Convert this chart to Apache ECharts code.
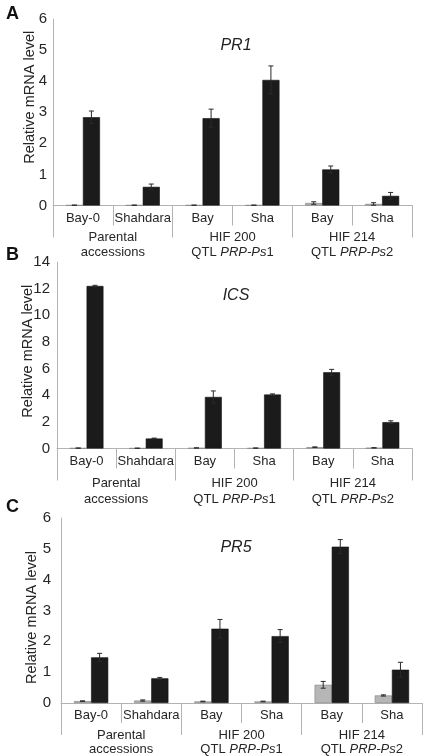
<!DOCTYPE html>
<html>
<head>
<meta charset="utf-8">
<script src="https://cdn.jsdelivr.net/npm/echarts@6/dist/echarts.min.js"></script>
<style>
html,body{margin:0;padding:0;background:#fff;}
#chart{width:423px;height:756px;}
</style>
</head>
<body>
<div id="chart"></div>
<script>
// ---- data ----
const categories = ['Bay-0', 'Shahdara', 'Bay', 'Sha', 'Bay', 'Sha'];
const groupLine1 = ['Parental', 'HIF 200', 'HIF 214'];
const groupLine2 = ['accessions', 'QTL {i|PRP-Ps}1', 'QTL {i|PRP-Ps}2'];
const panelLetters = ['A', 'B', 'C'];
const geneNames = ['PR1', 'ICS', 'PR5'];
const yAxisName = 'Relative mRNA level';
const yMax = [6, 14, 6];
const yInterval = [1, 2, 1];

// PR1
const pr1Gray = [0.01, 0.01, 0.01, 0.01, 0.08, 0.05];
const pr1GraySd = [0, 0, 0, 0, 0.04, 0.04];
const pr1Black = [2.84, 0.60, 2.81, 4.04, 1.16, 0.31];
const pr1BlackSd = [0.20, 0.09, 0.29, 0.45, 0.11, 0.11];
// ICS
const icsGray = [0.03, 0.02, 0.04, 0.03, 0.10, 0.05];
const icsGraySd = [0, 0, 0, 0, 0.02, 0.01];
const icsBlack = [12.2, 0.75, 3.87, 4.05, 5.72, 1.98];
const icsBlackSd = [0.05, 0.03, 0.45, 0.05, 0.22, 0.10];
// PR5
const pr5Gray = [0.06, 0.08, 0.05, 0.05, 0.59, 0.245];
const pr5GraySd = [0.01, 0.02, 0.01, 0.01, 0.11, 0.02];
const pr5Black = [1.48, 0.80, 2.41, 2.17, 5.07, 1.08];
const pr5BlackSd = [0.13, 0.03, 0.30, 0.21, 0.23, 0.24];

const grayVals = [pr1Gray, icsGray, pr5Gray];
const graySds = [pr1GraySd, icsGraySd, pr5GraySd];
const blackVals = [pr1Black, icsBlack, pr5Black];
const blackSds = [pr1BlackSd, icsBlackSd, pr5BlackSd];

// ---- layout (styles / positions) ----
const FONT = '"Liberation Sans", Arial, sans-serif';
const AXIS_COLOR = '#b3b3b3';
const TEXT_COLOR = '#262626';
const grids = [
  {left: 53, top: 19, width: 359, height: 186.5},
  {left: 57, top: 262, width: 355, height: 186.5},
  {left: 61, top: 518, width: 361, height: 186.5}
];
const nameGaps = [16, 22, 22];
const namePads = [[0, 0, 0, 30], [0, 0, 0, 8], [0, 14, 0, 0]];
const yLabelMargins = [6, 7, 10];
const groupMargins = [24, 27, 25];
const groupLineHeights = [15, 16, 14];
const letterTops = [0, 241, 493];
const geneTops = [33, 283, 535];
const geneLeft = 231;

function errRenderer(side) {
  return function (params, api) {
    const x = api.value(0);
    const lo = api.coord([x, api.value(1)]);
    const hi = api.coord([x, api.value(2)]);
    const cw = api.size([1, 0])[0];
    const cx = lo[0] + side * cw * 0.142;
    const cap = 2.5;
    const st = {stroke: '#2a2a2a', lineWidth: 1};
    return {
      type: 'group',
      children: [
        {type: 'line', shape: {x1: cx, y1: lo[1], x2: cx, y2: hi[1]}, style: st},
        {type: 'line', shape: {x1: cx - cap, y1: hi[1], x2: cx + cap, y2: hi[1]}, style: st},
        {type: 'line', shape: {x1: cx - cap, y1: lo[1], x2: cx + cap, y2: lo[1]}, style: st}
      ]
    };
  };
}

const option = {
  animation: false,
  backgroundColor: '#fff',
  title: [],
  grid: [],
  xAxis: [],
  yAxis: [],
  series: []
};

for (let p = 0; p < 3; p++) {
  option.grid.push(Object.assign({containLabel: false}, grids[p]));
  option.title.push({
    text: panelLetters[p], left: 1, top: letterTops[p],
    textStyle: {fontFamily: FONT, fontWeight: 'bold', fontSize: 18, color: '#111'}
  });
  option.title.push({
    text: geneNames[p], left: geneLeft, top: geneTops[p], textAlign: 'center',
    textStyle: {fontFamily: FONT, fontStyle: 'italic', fontWeight: 'normal', fontSize: 16, color: '#222'}
  });
  // category axis
  option.xAxis.push({
    type: 'category', gridIndex: p, data: categories, position: 'bottom',
    axisLine: {show: true, lineStyle: {color: AXIS_COLOR, width: 1}},
    axisTick: {show: true, length: 20, interval: 0, lineStyle: {color: AXIS_COLOR}},
    axisLabel: {interval: 0, margin: 6, fontFamily: FONT, fontSize: 13, color: TEXT_COLOR},
    splitLine: {show: false}
  });
  // group axis
  option.xAxis.push({
    type: 'category', gridIndex: p, position: 'bottom', offset: 0,
    data: groupLine1.map((g, i) => g + '\n' + groupLine2[i]),
    axisLine: {show: false},
    axisTick: {show: true, length: 32, interval: 0, lineStyle: {color: AXIS_COLOR}},
    axisLabel: {
      interval: 0, margin: groupMargins[p], fontFamily: FONT, fontSize: 13, color: TEXT_COLOR,
      lineHeight: groupLineHeights[p],
      rich: {i: {fontStyle: 'italic', fontFamily: FONT, fontSize: 13, color: TEXT_COLOR, lineHeight: groupLineHeights[p]}}
    },
    splitLine: {show: false}
  });
  option.yAxis.push({
    type: 'value', gridIndex: p, min: 0, max: yMax[p], interval: yInterval[p],
    name: yAxisName, nameLocation: 'middle', nameGap: nameGaps[p], nameMoveOverlap: false,
    nameTextStyle: {fontFamily: FONT, fontSize: 14.5, color: TEXT_COLOR, padding: namePads[p]},
    axisLine: {show: true, lineStyle: {color: AXIS_COLOR, width: 1}},
    axisTick: {show: false},
    axisLabel: {margin: yLabelMargins[p], fontFamily: FONT, fontSize: 15, color: TEXT_COLOR},
    splitLine: {show: false}
  });
  const xi = p * 2;
  option.series.push({
    type: 'bar', xAxisIndex: xi, yAxisIndex: p, data: grayVals[p],
    barGap: '0%', barCategoryGap: '43%',
    itemStyle: {color: '#b6b6b6', borderColor: '#7d7d7d', borderWidth: 0.6},
    z: 2
  });
  option.series.push({
    type: 'bar', xAxisIndex: xi, yAxisIndex: p, data: blackVals[p],
    barGap: '0%', barCategoryGap: '43%',
    itemStyle: {color: '#1b1b1b', borderColor: '#111', borderWidth: 0.6},
    z: 2
  });
  option.series.push({
    type: 'custom', xAxisIndex: xi, yAxisIndex: p, z: 5,
    renderItem: errRenderer(-1),
    data: grayVals[p].map((v, i) => [i, Math.max(0, v - graySds[p][i]), v + graySds[p][i]])
  });
  option.series.push({
    type: 'custom', xAxisIndex: xi, yAxisIndex: p, z: 5,
    renderItem: errRenderer(1),
    data: blackVals[p].map((v, i) => [i, Math.max(0, v - blackSds[p][i]), v + blackSds[p][i]])
  });
}

const chart = echarts.init(document.getElementById('chart'), null, {renderer: 'canvas'});
chart.setOption(option);
</script>
</body>
</html>
